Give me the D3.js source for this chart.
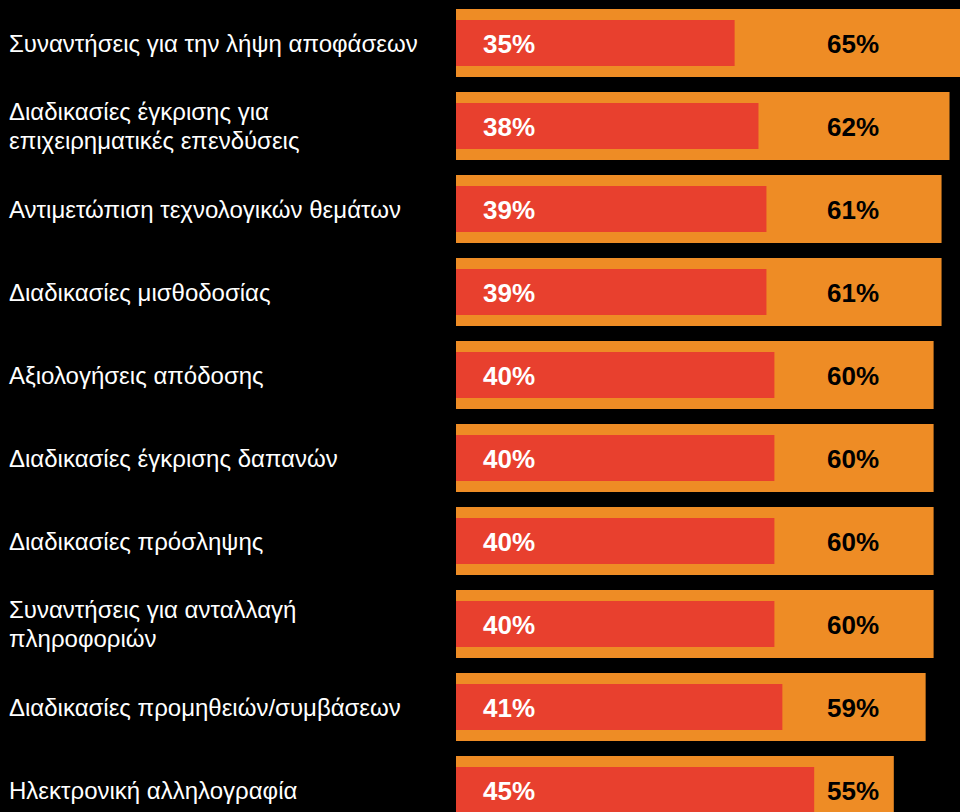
<!DOCTYPE html>
<html>
<head>
<meta charset="utf-8">
<script src="https://cdn.jsdelivr.net/npm/d3@7"></script>
<style>
  html, body { margin: 0; padding: 0; background: #000; }
  svg { display: block; }
</style>
</head>
<body>
<svg id="chart" width="960" height="812"></svg>
<script>
const categories = [
  ["Συναντήσεις για την λήψη αποφάσεων"],
  ["Διαδικασίες έγκρισης για", "επιχειρηματικές επενδύσεις"],
  ["Αντιμετώπιση τεχνολογικών θεμάτων"],
  ["Διαδικασίες μισθοδοσίας"],
  ["Αξιολογήσεις απόδοσης"],
  ["Διαδικασίες έγκρισης δαπανών"],
  ["Διαδικασίες πρόσληψης"],
  ["Συναντήσεις για ανταλλαγή", "πληροφοριών"],
  ["Διαδικασίες προμηθειών/συμβάσεων"],
  ["Ηλεκτρονική αλληλογραφία"]
];
const redValues = [35, 38, 39, 39, 40, 40, 40, 40, 41, 45];
const orangeValues = [65, 62, 61, 61, 60, 60, 60, 60, 59, 55];

const W = 960, H = 812;
const svg = d3.select("#chart");
svg.append("rect").attr("width", W).attr("height", H).attr("fill", "#000");

const keys = categories.map((c, i) => i);
const y = d3.scaleBand().domain(keys).range([9, 824]).paddingInner(15 / 83).paddingOuter(0);
const x = d3.scaleLinear().domain([0, 100]).range([456, 456 + 796]);

const rows = svg.selectAll("g.row").data(keys).join("g").attr("class", "row");

rows.append("rect")
  .attr("x", x(0))
  .attr("y", i => y(i))
  .attr("width", i => x(orangeValues[i]) - x(0))
  .attr("height", y.bandwidth())
  .attr("fill", "#EE8C25");

rows.append("rect")
  .attr("x", x(0))
  .attr("y", i => y(i) + 11)
  .attr("width", i => x(redValues[i]) - x(0))
  .attr("height", y.bandwidth() - 22)
  .attr("fill", "#E8402E");

rows.append("text")
  .attr("x", x(0) + 27)
  .attr("y", i => y(i) + y.bandwidth() / 2 + 9.5)
  .attr("fill", "#fff")
  .attr("font-family", "Liberation Sans, Arial, sans-serif")
  .attr("font-weight", "bold")
  .attr("font-size", 26)
  .text(i => redValues[i] + "%");

rows.append("text")
  .attr("x", 827)
  .attr("y", i => y(i) + y.bandwidth() / 2 + 9.5)
  .attr("fill", "#000")
  .attr("font-family", "Liberation Sans, Arial, sans-serif")
  .attr("font-weight", "bold")
  .attr("font-size", 26)
  .text(i => orangeValues[i] + "%");

const lineH = 29;
rows.append("text")
  .attr("fill", "#fff")
  .attr("font-family", "Liberation Sans, Arial, sans-serif")
  .attr("font-size", 24)
  .each(function(i) {
    const lines = categories[i];
    const cy = y(i) + y.bandwidth() / 2 + 8.5;
    d3.select(this).selectAll("tspan").data(lines).join("tspan")
      .attr("x", 9)
      .attr("y", (d, k) => cy + (k - (lines.length - 1) / 2) * lineH)
      .text(d => d);
  });
</script>
</body>
</html>
